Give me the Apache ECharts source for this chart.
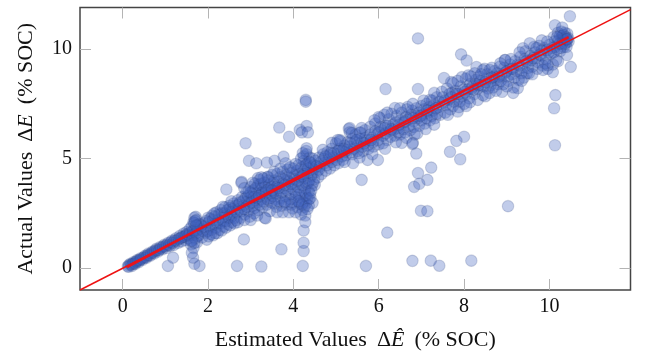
<!DOCTYPE html>
<html>
<head>
<meta charset="utf-8">
<style>
    html, body { margin: 0; padding: 0; background: #ffffff; }
    #chart { width: 646px; height: 356px; }
</style>
<script src="https://cdn.jsdelivr.net/npm/echarts@6/dist/echarts.min.js"></script>
</head>
<body>
<div id="chart"></div>
<script>
    // [estimated, actual]
    const bandStart = [
        [0.12,0.08],[0.15,0.14],[0.18,0.2],[0.22,0.1],[0.26,0.28],[0.3,0.2],[0.34,0.37],[0.38,0.28],[0.42,0.45],[0.47,0.38],
        [0.52,0.56],[0.56,0.47],[0.6,0.66],[0.65,0.57],[0.7,0.76],[0.74,0.67],[0.79,0.88],[0.83,0.76],[0.88,0.96],[0.93,0.86],
        [0.97,1.06],[1.02,0.92],[1.07,1.16],[1.11,1.01],[1.16,1.26],[1.2,1.06],[1.25,1.36],[1.3,1.16],[1.34,1.47],[1.38,1.22],
        [1.43,1.58],[1.47,1.28],[1.5,1.65],[1.53,1.36],[1.57,1.78],[1.6,1.25],
        [0.14,0.06],[0.2,0.16],[0.24,0.2],[0.28,0.22],[0.32,0.3],[0.36,0.34],[0.4,0.36],[0.44,0.42],[0.49,0.48],[0.54,0.5],
        [0.58,0.58],[0.62,0.6],[0.67,0.68],[0.72,0.72],[0.76,0.8],[0.81,0.82],[0.86,0.84],[0.9,0.92],[0.95,0.98],[1.0,1.0],
        [1.04,1.08],[1.09,1.06],[1.13,1.18],[1.18,1.16],[1.22,1.26],[1.27,1.26],[1.32,1.34],[1.36,1.38],[1.4,1.42],[1.45,1.44],
        [1.49,1.5],[1.52,1.56],[1.55,1.5],[1.58,1.62]
    ];
    const lobeTwo = [
        [1.62,1.9],[1.66,2.1],[1.68,2.3],[1.71,2.34],[1.73,2.2],[1.75,1.95],[1.69,1.72],[1.64,1.5],[1.7,1.35],[1.74,1.18],
        [1.6,1.08],[1.66,0.92],[1.78,1.5],[1.82,1.8],[1.86,1.4],[1.9,2.05],[1.94,1.62],[1.97,1.3],[2.0,2.3],[2.03,1.85],
        [2.07,1.55],[2.1,2.4],[2.14,2.0],[2.17,1.6],[2.2,2.55],[2.24,2.2],[2.27,1.75],[2.3,2.65],[2.34,2.3],[2.37,1.9],
        [2.4,2.78],[2.44,2.45],[2.47,2.0],[2.5,2.85],[2.53,2.55],[2.56,2.1],[2.6,2.95],[2.63,2.62],
        [1.65,1.7],[1.72,1.6],[1.76,1.75],[1.8,2.0],[1.84,1.95],[1.88,1.7],[1.92,1.9],[1.96,2.15],[1.99,1.7],[2.02,2.1],
        [2.05,2.25],[2.08,1.75],[2.12,2.2],[2.16,2.35],[2.19,1.85],[2.22,2.05],[2.26,2.45],[2.29,2.05],[2.32,2.5],[2.36,2.15],
        [2.39,2.5],[2.42,2.15],[2.46,2.65],[2.49,2.3],[2.52,2.75],[2.55,2.35],[2.58,2.7],[2.62,2.3],[2.65,2.85],[1.68,2.05],
        [1.72,1.95],[1.7,2.15],[1.75,1.45],[1.68,1.15],[1.62,1.25],
        [2.02,1.45],[2.12,1.5],[2.22,1.6],[2.32,1.72],[2.42,1.85],[2.52,1.95],[2.62,2.05],[2.15,2.5],[2.35,2.8],[2.55,3.05]
    ];
    const bandLow = [
        [2.66,2.2],[2.7,3.1],[2.73,2.7],[2.76,2.3],[2.8,3.25],[2.83,2.85],[2.86,2.45],[2.9,3.45],[2.92,3.05],[2.95,2.6],
        [2.98,2.35],[3.0,3.7],[3.02,3.25],[3.05,2.85],[3.08,2.5],[3.1,3.85],[3.13,3.4],[3.16,3.0],[3.18,2.65],[3.2,4.02],
        [3.23,3.6],[3.26,3.15],[3.28,2.78],[3.3,4.1],[3.33,3.7],[3.35,3.3],[3.38,2.9],[3.4,4.15],[3.43,3.8],[3.45,3.42],
        [3.48,3.0],[3.5,4.25],[3.53,3.88],[3.55,3.5],[3.58,3.12],[3.6,2.8],[3.62,4.3],[3.65,3.95],[3.67,3.55],[3.7,3.2],
        [3.72,2.85],[3.75,4.4],[3.77,4.05],[3.8,3.65],[3.82,3.28],[3.84,2.9],[3.87,4.5],[3.89,4.15],[3.92,3.75],[3.94,3.38],
        [3.96,3.0],[3.98,2.72],[4.0,4.55],[4.02,4.2],[4.04,3.85],[4.06,3.45],[4.08,3.1],[4.1,2.78],[4.12,4.7],[4.14,4.3],
        [4.16,3.95],[4.18,3.55],[4.2,3.2],[4.22,2.65],[4.24,5.1],[4.25,4.9],[4.26,4.5],[4.27,4.1],[4.28,3.65],[4.29,3.3],
        [4.3,2.95],[4.31,5.2],[4.32,4.75],[4.34,4.35],[4.35,3.9],[4.36,3.5],[4.37,3.15],[4.38,5.05],[4.4,4.6],[4.42,4.2],
        [4.43,3.75],[4.45,5.0],[4.47,4.5],[4.49,4.05],[4.5,3.8],[3.42,4.0],[3.1,3.1],[3.25,3.4],[3.6,3.7],[3.85,4.0],
        [2.68,2.55],[2.72,2.9],[2.75,3.0],[2.78,2.6],[2.82,3.05],[2.85,2.7],[2.88,3.2],[2.91,2.8],[2.94,3.3],[2.97,2.95],
        [3.0,3.45],[3.03,3.0],[3.06,3.55],[3.09,2.75],[3.12,3.65],[3.15,3.2],[3.18,3.8],[3.21,2.9],[3.24,3.85],[3.27,3.45],
        [3.3,3.05],[3.32,3.9],[3.36,3.55],[3.39,3.15],[3.42,3.6],[3.46,3.2],[3.49,3.7],[3.52,3.3],[3.56,4.0],[3.59,3.4],
        [3.63,3.75],[3.66,3.05],[3.69,4.15],[3.72,3.45],[3.76,3.85],[3.79,3.05],[3.83,4.25],[3.86,3.55],[3.9,3.95],[3.93,3.15],
        [3.97,4.35],[4.0,3.6],[4.03,4.05],[4.05,3.25],[4.09,4.45],[4.11,3.7],[4.13,3.35],[4.15,2.95],[4.17,4.15],[4.19,4.6],
        [4.21,3.8],[4.23,3.0],[4.25,4.3],[4.27,3.45],[4.29,4.7],[4.31,3.85],[4.33,3.2],[4.35,4.55],[4.37,4.0],[4.39,3.4],
        [4.41,4.8],[4.44,4.3],[4.46,3.9],[4.48,4.7],[4.26,2.8],[4.2,2.9],[4.12,3.05],[3.95,2.9],[3.8,3.0],[3.55,2.95],
        [2.79,3.94],[3.17,4.11],[3.4,4.17],[4.45,2.98],[3.33,2.3],[2.7,2.1],[2.85,2.2],[3.0,2.2],[3.15,2.4],[3.45,2.6],
        [3.62,2.55],[3.75,2.55],[3.9,2.55],[4.05,2.55],[4.18,2.45],[4.28,2.4],[3.05,3.9],[3.25,4.15],[3.55,4.4],[3.7,4.55],
        [3.92,4.6],[4.05,4.75],[4.18,5.0],[4.3,5.35],[4.22,5.25],[4.38,4.85],[4.4,3.2],[4.42,3.55],[4.36,2.85],[4.33,2.7],
        [2.95,3.5],[3.08,3.25],[3.2,3.3],[3.35,3.45],[3.5,3.55],[3.65,3.65],[3.8,3.8],[3.95,3.85],[4.1,4.0],[4.22,4.2]
    ];
    const bandMid = [
        [4.52,4.9],[4.55,4.4],[4.58,4.15],[4.6,5.05],[4.63,4.65],[4.66,4.3],[4.7,5.2],[4.73,4.8],[4.76,4.45],[4.8,5.3],
        [4.83,4.95],[4.86,4.55],[4.9,5.45],[4.93,5.05],[4.96,4.7],[5.0,5.7],[5.03,5.2],[5.06,4.8],[5.1,5.8],[5.13,5.35],
        [5.16,4.95],[5.2,5.6],[5.23,5.15],[5.27,5.75],[5.3,6.35],[5.32,6.2],[5.35,5.3],[5.38,5.9],[5.42,5.45],[5.46,6.1],
        [5.5,5.6],[5.53,5.25],[5.57,6.2],[5.6,5.75],[5.64,5.35],[5.68,6.3],[5.72,5.85],[5.76,5.45],[5.8,6.45],[5.84,5.95],
        [5.88,5.55],[5.92,6.6],[5.96,6.1],[6.0,5.65],[6.03,6.85],[6.07,6.3],[6.1,5.7],[6.13,7.0],[6.17,6.5],[6.2,5.85],
        [6.24,6.8],[6.27,6.25],[6.3,7.05],[6.34,6.55],[6.38,6.05],[6.42,6.95],[6.46,6.4],[6.5,6.1],[6.54,7.1],[6.58,6.65],
        [6.62,6.2],[6.66,7.25],[6.7,6.8],[6.74,6.3],[6.78,7.2],[6.82,6.7],[6.84,6.1],[6.88,7.3],[6.92,6.85],[6.95,6.5],
        [7.0,7.4],[7.04,7.0],[7.08,6.6],[7.12,7.5],[7.16,7.1],[7.2,6.75],[7.25,7.65],[7.28,7.2],[7.32,6.85],[7.36,7.8],
        [7.4,7.35],[7.44,7.0],
        [4.54,4.65],[4.6,4.5],[4.65,4.85],[4.72,5.0],[4.78,4.7],[4.84,5.15],[4.9,4.85],[4.95,5.25],[5.02,4.95],[5.08,5.45],
        [5.14,5.1],[5.2,5.3],[5.26,5.4],[5.32,5.55],[5.38,5.2],[5.44,5.75],[5.5,5.35],[5.56,5.9],[5.62,5.55],[5.68,5.95],
        [5.74,5.6],[5.8,6.1],[5.86,5.75],[5.92,6.25],[5.98,5.85],[6.04,6.45],[6.1,6.05],[6.16,6.15],[6.22,6.5],[6.28,6.0],
        [6.34,6.3],[6.4,6.65],[6.46,6.2],[6.52,6.75],[6.58,6.35],[6.64,6.9],[6.7,6.5],[6.76,7.0],[6.82,6.45],[6.88,6.95],
        [6.94,7.1],[7.0,6.75],[7.06,7.25],[7.12,6.85],[7.18,7.35],[7.24,6.95],[7.3,7.45],[7.36,7.05],[7.42,7.6],
        [4.69,5.4],[4.9,5.72],[5.04,5.85],[5.32,6.4],[5.37,6.17],[5.09,5.85],[5.56,6.17],[5.4,4.8],[5.74,4.94],[5.98,4.94],
        [6.0,6.9],[6.38,7.31],[6.68,7.36],[7.2,7.68],[7.3,8.0],[6.54,5.72],[6.8,5.72],[5.2,4.85],[5.55,5.05],[5.85,5.2],
        [6.15,5.45],[6.4,5.75],[6.65,5.95],[6.9,6.15],[7.1,6.35],[7.3,6.55],[5.6,6.4],[5.9,6.75],[6.2,7.1],[6.5,7.3],
        [6.8,7.5],[7.05,7.65],[4.75,5.1],[4.88,5.25],[5.05,5.35],[5.18,5.45],[5.34,5.7],[5.48,5.85],[5.66,5.7],[5.82,5.85],
        [6.0,6.2],[6.14,6.4],[6.3,6.35],[6.48,6.55],[6.62,6.7],[6.8,6.85],[6.98,6.95],[7.14,7.2],[7.34,7.3]
    ];
    const bandHigh = [
        [7.48,8.05],[7.52,7.55],[7.56,7.1],[7.6,8.2],[7.64,7.7],[7.68,7.25],[7.72,8.0],[7.76,7.6],[7.8,8.1],[7.84,7.7],
        [7.88,7.35],[7.92,8.3],[7.96,7.85],[8.0,7.5],[8.04,8.65],[8.08,8.15],[8.12,7.75],[8.16,8.75],[8.2,8.3],[8.24,7.95],
        [8.28,8.6],[8.32,8.2],[8.36,8.75],[8.4,8.35],[8.44,7.9],[8.48,9.1],[8.52,8.65],[8.56,8.2],[8.6,9.05],[8.64,8.55],
        [8.68,8.25],[8.72,9.0],[8.76,8.6],[8.8,8.4],[8.84,9.2],[8.88,8.8],[8.92,8.4],[8.96,9.5],[9.0,9.0],[9.04,8.55],
        [9.08,9.3],[9.12,8.85],[9.16,8.25],[9.2,9.45],[9.24,9.0],[9.28,8.6],[9.32,9.65],[9.36,9.15],[9.4,8.7],[9.44,9.9],
        [9.48,9.4],[9.52,8.9],[9.56,9.7],[9.6,9.2],[9.64,10.1],[9.68,9.6],[9.72,9.1],[9.76,10.15],[9.8,9.7],[9.84,9.25],
        [9.88,10.05],[9.92,9.55],[9.96,9.1],[10.0,10.2],[10.04,9.8],[10.08,9.3],[10.1,10.55],[10.13,10.1],[10.16,9.5],[10.2,10.75],
        [10.22,10.4],[10.25,9.9],[10.28,10.8],[10.31,10.45],[10.34,10.1],[10.36,10.75],[10.38,10.55],[10.4,10.3],[10.42,10.7],[10.44,10.5],
        [10.45,10.35],[10.3,10.6],[10.35,10.4],[10.25,10.6],[10.4,10.1],
        [7.5,7.8],[7.58,7.45],[7.66,7.95],[7.74,7.4],[7.82,7.95],[7.9,7.6],[7.98,8.15],[8.06,7.95],[8.14,8.4],[8.22,8.15],
        [8.3,8.4],[8.38,8.55],[8.46,8.3],[8.54,8.85],[8.62,8.35],[8.7,8.75],[8.78,8.9],[8.86,8.55],[8.94,9.15],[9.02,8.75],
        [9.1,9.1],[9.18,8.7],[9.26,9.3],[9.34,8.9],[9.42,9.55],[9.5,9.15],[9.58,9.5],[9.66,9.85],[9.74,9.4],[9.82,9.95],
        [9.9,9.35],[9.98,9.85],[10.06,10.05],[10.12,10.35],[10.18,10.0],[10.24,10.25],[10.3,10.25],[10.36,10.25],[10.42,10.45],[10.33,10.65],
        [7.53,8.68],[7.74,8.45],[7.95,8.72],[8.29,9.18],[8.44,9.04],[8.25,8.9],[8.96,9.5],[9.38,10.04],[9.54,10.27],[9.82,10.4],
        [9.26,8.22],[9.15,8.0],[8.89,8.05],[8.6,8.0],[8.32,7.68],[8.14,7.58],[9.47,8.9],[10.08,8.95],[9.96,9.27],[10.41,9.73],
        [7.62,7.0],[7.85,7.15],[8.05,7.4],[8.5,7.85],[8.75,8.1],[9.0,8.3],[9.35,8.55],[9.6,8.85],[9.85,9.05],[10.2,9.45],
        [7.7,8.5],[7.85,8.55],[8.1,8.8],[8.4,8.85],[8.65,9.15],[8.85,9.35],[9.1,9.55],[9.3,9.85],[9.7,10.05],[9.95,10.35],
        [7.55,7.65],[7.7,7.8],[7.86,7.95],[8.02,8.05],[8.18,8.2],[8.34,8.35],[8.5,8.5],[8.66,8.7],[8.82,8.75],[8.98,8.95],
        [9.14,9.1],[9.3,9.25],[9.46,9.45],[9.62,9.6],[9.78,9.75],[9.94,9.95],[10.1,9.85],[10.26,10.05],[10.4,10.45],[10.18,10.55]
    ];
    const outliers = [
        [2.88,5.7],[3.67,6.42],[3.9,6.0],[4.29,7.68],[4.29,7.6],[4.31,6.49],[4.15,6.31],[4.2,6.2],[4.34,6.2],[2.96,4.9],
        [3.13,4.79],[3.38,4.82],[3.56,4.9],[3.77,5.09],[3.82,4.79],[4.31,5.47],[6.92,10.49],[6.16,8.18],[6.92,8.18],[10.48,11.5],
        [10.13,11.09],[10.3,10.99],[7.93,9.76],[8.06,9.48],[10.5,9.19],[10.14,7.9],[10.11,7.3],[10.13,5.61],[8.0,6.0],[7.82,5.81],
        [7.67,5.31],[7.91,4.97],[6.79,5.67],[6.88,5.23],[7.23,4.59],[6.92,4.34],[7.14,4.03],[5.6,4.03],[6.83,3.71],[6.95,3.85],
        [6.99,2.62],[7.14,2.6],[9.03,2.83],[6.2,1.62],[6.79,0.33],[7.22,0.34],[7.42,0.11],[8.17,0.34],[5.7,0.1],[2.43,3.59],
        [2.84,1.31],[3.72,0.86],[1.06,0.1],[1.18,0.48],[1.8,0.1],[1.68,0.2],[1.65,0.48],[1.62,0.7],[2.68,0.1],[3.25,0.07],
        [4.22,0.1],[4.24,0.78],[4.24,1.16],[4.24,1.72],[4.28,2.1],[3.35,2.27],[2.78,3.9],[2.85,3.65]
    ];
    const idealLine = [[-1,-1],[11.9,11.8]];
    const fitLine = [[0.1,0.05],[2,2],[4.2,4.25],[6,6.05],[8,8.1],[10.45,10.55]];
    const xTicks = [0,2,4,6,8,10];
    const yTicks = [0,5,10];

    const serif = '"Liberation Serif", serif';
    const points = bandStart.concat(lobeTwo, bandLow, bandMid, bandHigh, outliers);
    const nameRich = {
        r: { fontFamily: serif, fontSize: 22, color: '#111' },
        d: { fontFamily: serif, fontSize: 22, color: '#111', padding: [0, 0, 0, 10] },
        i: { fontFamily: serif, fontSize: 22, fontStyle: 'italic', color: '#111' },
        p: { fontFamily: serif, fontSize: 22, color: '#111', padding: [0, 0, 0, 10] }
    };

    function frameAxis(position, ticks) {
        return {
            type: 'value',
            position: position,
            min: -1,
            max: 11.9,
            splitLine: { show: false },
            axisLine: { show: false, onZero: false },
            axisLabel: { show: false, customValues: ticks },
            axisTick: { inside: true, length: 11, customValues: ticks, lineStyle: { color: '#b4b4b4', width: 1 } }
        };
    }

    let xMain = frameAxis('bottom', xTicks);
    xMain.name = '{r|Estimated Values}{d|Δ}{i|Ê}{p|(% SOC)}';
    xMain.nameLocation = 'middle';
    xMain.nameGap = 39;
    xMain.nameTextStyle = { rich: nameRich };
    xMain.axisLabel = { show: true, customValues: xTicks, fontFamily: serif, fontSize: 20, color: '#111', margin: 7 };

    let yMain = frameAxis('left', yTicks);
    yMain.name = '{r|Actual Values}{d|Δ}{i|E}{p|(% SOC)}';
    yMain.nameLocation = 'middle';
    yMain.nameGap = 43;
    yMain.nameTextStyle = { rich: nameRich };
    yMain.axisLabel = { show: true, customValues: yTicks, fontFamily: serif, fontSize: 20, color: '#111', margin: 8 };

    const chart = echarts.init(document.getElementById('chart'), null, { renderer: 'canvas' });
    chart.setOption({
        animation: false,
        backgroundColor: '#ffffff',
        grid: {
            left: 80, right: 15.5, top: 7.5, bottom: 66,
            outerBoundsMode: 'none',
            show: true,
            borderColor: '#444444',
            borderWidth: 1.5
        },
        xAxis: [xMain, frameAxis('top', xTicks)],
        yAxis: [yMain, frameAxis('right', yTicks)],
        series: [{
            type: 'scatter',
            data: points,
            symbolSize: 11.5,
            itemStyle: {
                color: 'rgba(62,96,190,0.4)',
                borderColor: 'rgba(40,60,120,0.24)',
                borderWidth: 1.1
            }
        }, {
            type: 'line',
            data: idealLine,
            symbol: 'none',
            z: 5,
            lineStyle: { color: '#ee1111', width: 1.5 }
        }, {
            type: 'line',
            data: fitLine,
            symbol: 'none',
            z: 6,
            lineStyle: { color: '#e8141c', width: 2.6 }
        }]
    });
</script>
</body>
</html>
